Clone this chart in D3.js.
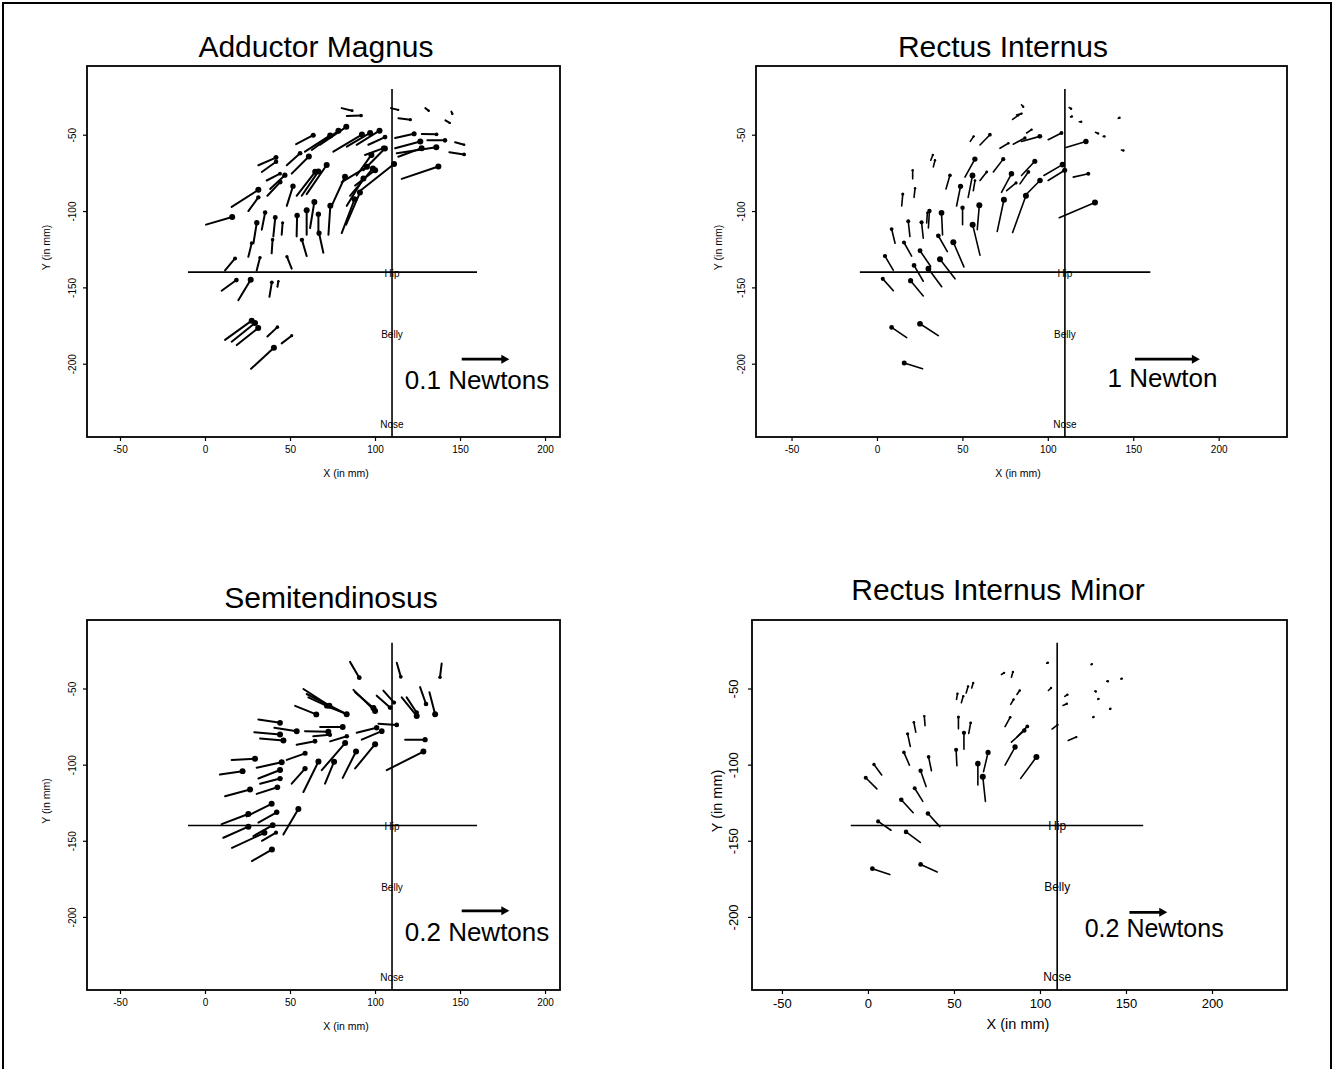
<!DOCTYPE html>
<html>
<head>
<meta charset="utf-8">
<script src="https://cdn.jsdelivr.net/npm/d3@7"></script>
<style>
  body { margin: 0; background: #fff; }
  svg text { font-family: "Liberation Sans", Arial, Helvetica, sans-serif; fill: #000; }
</style>
</head>
<body>
<svg id="fig" width="1335" height="1069"></svg>
<script>
// Axis ticks (mm)
const xTicks = [-50, 0, 50, 100, 150, 200];
const yTicks = [-50, -100, -150, -200];

// Anatomical reference cross (mm)
const hipX = 110, hipY = -140;
const crossXRange = [-10, 160];
const crossYTop = -20;
const landmarkNames = ["Hip", "Belly", "Nose"];
const landmarkY = [-143, -183, -242];

// Adductor Magnus: measurement position (mm) and endpoint force (N)
const adductorX = [80.4, 83.4, 109.4, 113.8, 129.6, 141.4, 144.9,
  111.8, 127.5, 130.8, 147.1, 143.7,
  111.8, 112.8, 113.7, 115.7, 90.2,
  75.5, 83.4, 89.2, 96.1, 94.1,
  53.6, 58.8, 62.8, 67.7, 48.1, 51,
  31.4, 33.4, 36.3, 38.3, 36.7, 15.7,
  0.6, 25.5,
  53.9, 56.9, 59.8,
  48.1, 74.5, 80.4, 83, 83.4, 85.3, 88.3, 89.2, 93.2, 80.4,
  40.2, 45.1, 53.9, 59.8, 61.8, 66.7, 72.6,
  33.4, 28.5, 39.2, 25.5, 30.4, 11.8,
  59.8, 69.6, 51,
  9.8, 19.6, 37.9, 42.6,
  11.8, 15.7, 18.7, 36.7, 45.1, 27.1];
const adductorY = [-32.6, -37.7, -32.6, -39.3, -32.6, -40.6, -34.9,
  -52.2, -49.5, -53.7, -54.9, -61.5,
  -58.9, -62.2, -64.4, -78.9, -87.7,
  -61.1, -57.8, -56.6, -56.6, -63.3,
  -56.2, -61.1, -60, -56.6, -70, -75.5,
  -70, -74.4, -80, -85.5, -90, -97.3,
  -108.9, -100,
  -90, -90, -88.9,
  -96.6, -96.6, -114.4, -108.9, -96.6, -90, -83.3, -76.7, -73.3, -81.1,
  -116.6, -115.5, -116.6, -115.5, -111.1, -115.5, -115.5,
  -112.2, -121.1, -127.7, -130, -138.9, -138.9,
  -129.5, -127.3, -137.7,
  -152.2, -158.4, -156.2, -149.6,
  -184.4, -185.6, -187.8, -182.2, -186.7, -203.3];
const adductorFx = [0.022, 0.030, 0.015, 0.025, 0.007, 0.009, 0.002,
  0.040, 0.031, 0.037, 0.019, 0.031,
  0.053, 0.083, 0.049, 0.077, 0.075,
  0.060, 0.049, 0.048, 0.035, 0.039,
  0.036, 0.053, 0.056, 0.055, 0.028, 0.036,
  0.037, 0.030, 0.028, 0.031, 0.027, 0.056,
  0.055, 0.021,
  0.039, 0.035, 0.042,
  0.013, 0.028, 0.027, 0.029, 0.035, 0.048, 0.042, 0.031, 0.045, 0.053,
  0.004, 0.002, 0.001, 0, 0.009, 0, 0.004,
  0.007, 0.007, 0.002, 0.007, 0.007, 0.021,
  -0.010, -0.009, -0.010,
  0.031, 0.026, 0.005, 0.002,
  0.056, 0.049, 0.045, 0.021, 0.021, 0.048];
const adductorFy = [-0.006, 0.001, -0.004, -0.003, -0.006, -0.006, -0.005,
  0.010, -0.001, 0, -0.006, -0.005,
  0.016, 0.014, 0.020, 0.029, 0.066,
  0.040, 0.032, 0.033, 0.018, 0.016,
  0.021, 0.038, 0.045, 0.042, 0.028, 0.040,
  0.018, 0.024, 0.016, 0.032, 0.032, 0.040,
  0.018, 0.032,
  0.056, 0.057, 0.068,
  0.046, 0.068, 0.079, 0.075, 0.064, 0.064, 0.036, 0.048, 0.051, 0.036,
  0.044, 0.028, 0.049, 0.057, 0.061, 0.048, 0.068,
  0.040, 0.048, 0.032, 0.032, 0.030, 0.028,
  0.038, 0.046, 0.028,
  0.025, 0.048, 0.034, 0.013,
  0.045, 0.044, 0.040, 0.022, 0.018, 0.049];

// Rectus Internus
const rectusX = [84.6, 79.4, 81.7,
  112.5, 113.3, 118.4, 127.9, 132.4, 141.2, 143.1,
  100.2, 110.6, 114.9, 106.7, 97.7, 100.2, 86.6,
  79.4, 70.4, 72.9, 75.9, 83.7, 84.6, 68.1, 72,
  79.8, 84.6, 87.6, 60.3, 51.5, 53.4, 56.4, 46.6, 40.4,
  33, 31.5, 20.9, 21.7, 14.5, 54.6, 60.3,
  30.1, 29.1, 38.4, 27.1, 19.3, 10.6, 50.1, 60.3, 58.7,
  20.3, 31.4, 41.2, 45.7, 50.9, 9.6,
  27.1, 37.9, 9.6, 27.1,
  17.4, 35.9, 26.7];
const rectusY = [-30.4, -40, -37.1,
  -32.2, -38.4, -41.5, -48.4, -51.1, -39.3, -60,
  -53.3, -58.4, -77.8, -104.4, -76.7, -80, -90,
  -114, -113.3, -87.8, -86.7, -82.2, -76.7, -74.4, -58.9,
  -56.2, -54.4, -48.9, -80, -77.8, -91.1, -86.7, -96.7, -85.5,
  -71.1, -66.7, -78.9, -91.1, -96.7, -54.4, -56.7,
  -111.1, -107.8, -115.6, -117.8, -116.7, -121.1, -108.9, -128.9, -112.2,
  -129.5, -136.2, -126.6, -144.4, -136.6, -138.9,
  -146, -149.6, -152.2, -155.6,
  -182.9, -181.6, -203.3];
const rectusFx = [0.026, 0.087, 0.076,
  0.03, 0.02, 0.03, 0.04, 0.02, 0.02, 0.03,
  0.205, 0.308, 0.232, 0.55, 0.287, 0.255, 0.232,
  0.205, 0.103, 0.153, 0.145, 0.129, 0.205, 0.153, 0.129,
  0.179, 0.282, 0.076, 0.103, 0.153, 0.066, 0.026, 0.061, 0.061,
  0.026, 0.032, 0, 0.016, 0.016, 0.053, 0.153,
  0.016, 0.011, -0.016, -0.026, -0.026, -0.053, 0, -0.113, 0.032,
  -0.118, -0.163, -0.139, -0.232, -0.163, -0.129,
  -0.142, -0.205, -0.163, -0.195,
  -0.232, -0.282, -0.282];
const rectusFy = [-0.034, 0.071, 0.024,
  -0.02, 0.01, 0, -0.02, 0, 0.01, -0.01,
  0.116, 0.105, 0.058, 0.263, 0.187, 0.176, 0.263,
  0.632, 0.545, 0.321, 0.134, 0.205, 0.245, 0.221, 0.087,
  0.105, 0.087, 0.058, 0.147, 0.311, 0.379, 0.176, 0.339, 0.234,
  0.116, 0.092, 0.147, 0.158, 0.205, 0.087, 0.176,
  0.292, 0.176, 0.379, 0.274, 0.263, 0.245, 0.292, 0.526, 0.421,
  0.234, 0.268, 0.274, 0.339, 0.426, 0.247,
  0.274, 0.311, 0.205, 0.263,
  0.176, 0.205, 0.100];

// Semitendinosus
const semitenX = [85.3, 112.8, 139.2, 57.9, 59.8, 60.8, 87.3, 88.3, 101, 104.9,
  115.7, 118.6, 126.5, 132, 53, 73.6, 31.4, 40.8, 29, 32.4,
  58.8, 67.7, 53.9, 63.7, 73.6, 89.2, 92.2, 102, 117.7, 106.9,
  15.7, 8.8, 30.4, 31.4, 32.4, 30.4, 11.8, 48.1,
  57.9, 70.6, 68.7, 81, 88.3, 51,
  9.8, 24.5, 10.8, 31.4, 28.5, 46.1, 15.9, 27.6, 33.5];
const semitenY = [-32.5, -33.1, -33.6, -50.3, -53.6, -55.8, -50.9, -52.5, -54.7, -51.4,
  -55.8, -55.8, -49.1, -52.5, -61.4, -62.5, -70.3, -75.8, -78.7, -82.9,
  -78, -75.3, -86.9, -81.4, -84.7, -79.1, -83.6, -73.1, -83.6, -103.6,
  -96.9, -106.5, -102, -109.1, -112.5, -119.2, -120.7, -96.9,
  -118, -112.5, -103.6, -108.7, -102.5, -112.5,
  -139.1, -134, -148, -138, -146.9, -145.8, -154.7, -163.3, -150];
const semitenFx = [0.039, 0.017, -0.007, 0.109, 0.168, 0.077, 0.091, 0.077, 0.056, 0.045,
  0.063, 0.042, 0.025, 0.024, 0.089, 0.070, 0.091, 0.094, 0.108, 0.098,
  0.098, 0.095, 0.077, 0.070, 0.070, 0.084, 0.084, 0.077, 0.084, 0.154,
  0.098, 0.095, 0.105, 0.091, 0.084, 0.087, 0.105, 0.077,
  0.063, 0.038, 0.098, 0.056, 0.084, 0.056,
  0.112, 0.105, 0.105, 0.077, 0.081, 0.063, 0.136, 0.084, 0.059];
const semitenFy = [-0.074, -0.066, -0.064, -0.079, -0.095, -0.040, -0.099, -0.074, -0.056, -0.056,
  -0.087, -0.071, -0.079, -0.103, -0.040, -0.031, -0.016, -0.016, -0.011, -0.009,
  -0.003, 0, 0.016, 0.007, 0.024, 0.024, 0.040, -0.006, 0, 0.087,
  0.005, 0.016, 0.026, 0.040, 0.024, 0.031, 0.031, 0.031,
  0.143, 0.103, 0.127, 0.124, 0.114, 0.071,
  0.048, 0.059, 0.052, 0.048, 0.051, 0.119, 0.071, 0.054, 0.038];

// Rectus Internus Minor
const minorX = [5.2, 8, 26.3, 31.9, 24.1, 33.8, 36.9, 24.6, 27.8, 33.2,
  51.7, 55.8, 58.6, 52.6, 63.9, 68.3, 67.2, 79.7, 83.4, 86.6, 88.8, 79.7,
  83, 86.6, 107, 116.4, 104.9, 113.4, 114.4, 77.6, 83.4,
  51.5, 54.3, 57.1, 60.3,
  103.9, 129.7, 131.9, 133.6, 138.8, 147, 140.5, 130.8,
  13.4, 30.4, 41.8, 12.7, 40.3];
const minorY = [-115.9, -106.8, -131.6, -124.1, -100.3, -114.4, -104, -88, -78.7, -74.4,
  -100.7, -89.9, -79.5, -76.5, -113.3, -124.1, -104.6, -100.3, -85.2, -81.8, -109, -75,
  -60.4, -53.9, -76.6, -84.1, -51.3, -61.1, -55.2, -40.8, -42.6,
  -57.1, -59.3, -52.9, -49.6,
  -33.4, -34.4, -51.7, -57.1, -45.2, -43.7, -63.6, -69,
  -143.1, -151.1, -140.7, -172.2, -170.5];
const minorFx = [-0.059, -0.041, -0.063, -0.043, -0.029, -0.029, -0.015, -0.014, -0.010, -0.004,
  -0.004, 0, 0.010, 0, 0, -0.014, 0.024, 0.053, 0.068, 0.055, 0.083, 0.027,
  0.015, 0.015, 0.029, 0.043, 0.014, 0.020, 0.014, 0.014, 0.008,
  0.005, 0.010, 0.010, 0.008,
  0.006, 0.004, 0.005, 0.004, 0.006, 0.005, 0.004, 0.003,
  -0.068, -0.075, -0.063, -0.092, -0.088];
const minorFy = [0.066, 0.063, 0.078, 0.078, 0.076, 0.095, 0.083, 0.075, 0.059, 0.057,
  0.095, 0.098, 0.063, 0.071, 0.127, 0.147, 0.115, 0.108, 0.069, 0.063, 0.127, 0.055,
  0.029, 0.024, 0.025, 0.020, 0.015, 0.010, 0.010, 0.010, 0.032,
  0.034, 0.039, 0.039, 0.029,
  0.003, 0.004, -0.002, 0.003, 0, 0.002, 0.003, 0.003,
  0.053, 0.063, 0.078, 0.035, 0.045];

// Panel layout: frame in px, data window in mm, force-to-length scale (mm per N)
const panels = [
  { title: "Adductor Magnus", xs: adductorX, ys: adductorY, fxs: adductorFx, fys: adductorFy,
    frame: { l: 87, t: 66, r: 560, b: 437 }, xDomain: [-69.4, 208.8], yDomain: [-248, -5],
    titleX: 316, titleY: 57, xTitleX: 346, xTitleDy: 40, yTitleDx: 37,
    mmPerN: 280, refForce: 0.1, refLabel: "0.1 Newtons",
    refAt: [151, -197], labelAt: [117.5, -216.5], legendSize: 26, tickSize: 10, axisSize: 10.5,
    landSize: 10, strokeW: 2 },
  { title: "Rectus Internus", xs: rectusX, ys: rectusY, fxs: rectusFx, fys: rectusFy,
    frame: { l: 756, t: 66, r: 1287, b: 437 }, xDomain: [-70.8, 240], yDomain: [-248, -5],
    titleX: 1003, titleY: 57, xTitleX: 1018, xTitleDy: 40, yTitleDx: 34,
    mmPerN: 38, refForce: 1, refLabel: "1 Newton",
    refAt: [151, -197], labelAt: [135, -215.5], legendSize: 26, tickSize: 10, axisSize: 10.5,
    landSize: 10, strokeW: 1.6 },
  { title: "Semitendinosus", xs: semitenX, ys: semitenY, fxs: semitenFx, fys: semitenFy,
    frame: { l: 87, t: 620, r: 560, b: 990 }, xDomain: [-69.4, 208.8], yDomain: [-248, -5],
    titleX: 331, titleY: 608, xTitleX: 346, xTitleDy: 40, yTitleDx: 37,
    mmPerN: 140, refForce: 0.2, refLabel: "0.2 Newtons",
    refAt: [151, -196], labelAt: [117.5, -215.5], legendSize: 26, tickSize: 10, axisSize: 10.5,
    landSize: 10, strokeW: 2 },
  { title: "Rectus Internus Minor", xs: minorX, ys: minorY, fxs: minorFx, fys: minorFy,
    frame: { l: 752, t: 620, r: 1287, b: 990 }, xDomain: [-67.4, 243.6], yDomain: [-248, -5],
    titleX: 998, titleY: 600, xTitleX: 1018, xTitleDy: 39, yTitleDx: 30,
    mmPerN: 110, refForce: 0.2, refLabel: "0.2 Newtons",
    refAt: [152, -197], labelAt: [126, -213], legendSize: 25, tickSize: 13, axisSize: 14.5,
    landSize: 12, strokeW: 1.6 }
];

const svg = d3.select("#fig");

// Outer border around the figure
svg.append("path")
  .attr("d", "M3,1069V3H1331V1069")
  .attr("fill", "none").attr("stroke", "#000").attr("stroke-width", 2);

panels.forEach(p => {
  const f = p.frame;
  const x = d3.scaleLinear().domain(p.xDomain).range([f.l, f.r]);
  const y = d3.scaleLinear().domain(p.yDomain).range([f.b, f.t]);
  const g = svg.append("g");

  // Title
  g.append("text").attr("x", p.titleX).attr("y", p.titleY)
    .attr("text-anchor", "middle").style("font-size", "30px").text(p.title);

  // Frame
  g.append("rect").attr("x", f.l).attr("y", f.t)
    .attr("width", f.r - f.l).attr("height", f.b - f.t)
    .attr("fill", "none").attr("stroke", "#000").attr("stroke-width", 1.8);

  // X axis
  const xa = g.append("g").attr("transform", `translate(0,${f.b})`)
    .call(d3.axisBottom(x).tickValues(xTicks).tickSize(4).tickPadding(5).tickFormat(d => String(d)));
  xa.select(".domain").remove();
  xa.selectAll("line").attr("stroke-width", 1.2);
  xa.selectAll("text").style("font-size", p.tickSize + "px")
    .style("font-family", '"Liberation Sans", Arial, sans-serif').attr("fill", "#000");

  // Y axis with rotated labels
  const ya = g.append("g").attr("transform", `translate(${f.l},0)`)
    .call(d3.axisLeft(y).tickValues(yTicks).tickSize(4).tickFormat(d => String(d)));
  ya.select(".domain").remove();
  ya.selectAll("line").attr("stroke-width", 1.2);
  ya.selectAll("text")
    .attr("transform", "rotate(-90)")
    .attr("x", 0).attr("y", -(p.tickSize + 1)).attr("dy", 0)
    .style("text-anchor", "middle")
    .style("font-size", p.tickSize + "px")
    .style("font-family", '"Liberation Sans", Arial, sans-serif').attr("fill", "#000");

  // Axis titles
  g.append("text").attr("x", p.xTitleX).attr("y", f.b + p.xTitleDy)
    .attr("text-anchor", "middle").style("font-size", p.axisSize + "px").text("X (in mm)");
  const yMid = (f.t + f.b) / 2 - 4;
  g.append("text").attr("transform", `translate(${f.l - p.yTitleDx},${yMid}) rotate(-90)`)
    .attr("text-anchor", "middle").style("font-size", p.axisSize + "px").text("Y (in mm)");

  // Reference cross through the hip
  g.append("line").attr("x1", x(crossXRange[0])).attr("x2", x(crossXRange[1]))
    .attr("y1", y(hipY)).attr("y2", y(hipY)).attr("stroke", "#000").attr("stroke-width", 1.6);
  g.append("line").attr("x1", x(hipX)).attr("x2", x(hipX))
    .attr("y1", y(crossYTop)).attr("y2", f.b).attr("stroke", "#000").attr("stroke-width", 1.6);
  landmarkNames.forEach((name, i) => {
    g.append("text").attr("x", x(hipX)).attr("y", y(landmarkY[i]))
      .attr("text-anchor", "middle").style("font-size", p.landSize + "px").text(name);
  });

  // Force vectors: line from the measurement point, dot at the head
  const arrows = p.xs.map((vx, i) => ({
    x0: x(vx), y0: y(p.ys[i]),
    x1: x(vx + p.fxs[i] * p.mmPerN), y1: y(p.ys[i] + p.fys[i] * p.mmPerN)
  }));
  const ag = g.append("g");
  ag.selectAll("line").data(arrows).join("line")
    .attr("x1", d => d.x0).attr("y1", d => d.y0)
    .attr("x2", d => d.x1).attr("y2", d => d.y1)
    .attr("stroke", "#000").attr("stroke-width", p.strokeW).attr("stroke-linecap", "round");
  ag.selectAll("circle").data(arrows).join("circle")
    .attr("cx", d => d.x1).attr("cy", d => d.y1)
    .attr("r", d => Math.max(1.2, Math.min(3, Math.hypot(d.x1 - d.x0, d.y1 - d.y0) * 0.13)))
    .attr("fill", "#000");

  // Scale arrow and label
  const rx0 = x(p.refAt[0]), ry = y(p.refAt[1]);
  const rx1 = x(p.refAt[0] + p.refForce * p.mmPerN);
  g.append("line").attr("x1", rx0).attr("x2", rx1 - 4).attr("y1", ry).attr("y2", ry)
    .attr("stroke", "#000").attr("stroke-width", 2.8);
  g.append("path")
    .attr("d", `M${rx1},${ry}L${rx1 - 8},${ry - 4.5}L${rx1 - 8},${ry + 4.5}Z`)
    .attr("fill", "#000");
  g.append("text").attr("x", x(p.labelAt[0])).attr("y", y(p.labelAt[1]))
    .style("font-size", p.legendSize + "px").text(p.refLabel);
});
</script>
</body>
</html>
